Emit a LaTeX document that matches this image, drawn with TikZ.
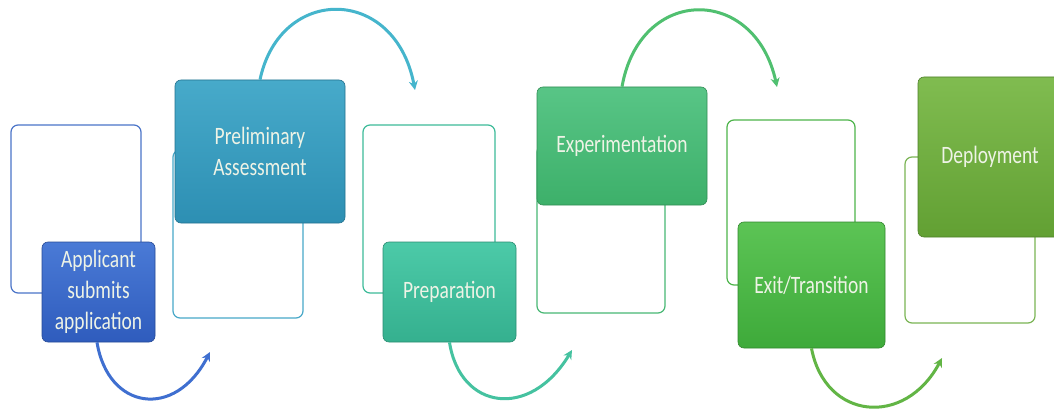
\documentclass[tikz,border=0pt]{standalone}
\usepackage{fontspec}
\setmainfont{Carlito}
\usetikzlibrary{arrows.meta}
\definecolor{oa}{HTML}{4A74C8}\definecolor{ta}{HTML}{4A7AD6}\definecolor{ba}{HTML}{2F5CBD}\definecolor{aa}{HTML}{3F6FD0}
\definecolor{ob}{HTML}{48A8C8}\definecolor{tb}{HTML}{47AACA}\definecolor{bb}{HTML}{2D8FB3}\definecolor{ab}{HTML}{45B5CC}
\definecolor{oc}{HTML}{3DBB99}\definecolor{tc}{HTML}{4CCAA8}\definecolor{bc}{HTML}{35B08F}\definecolor{ac}{HTML}{45C2A0}
\definecolor{od}{HTML}{48B874}\definecolor{td}{HTML}{58C586}\definecolor{bd}{HTML}{3DB06A}\definecolor{ad}{HTML}{50C070}
\definecolor{oe}{HTML}{4DB44A}\definecolor{te}{HTML}{5CC455}\definecolor{be}{HTML}{3EAA3A}\definecolor{ae}{HTML}{62B545}
\definecolor{of}{HTML}{7AB454}\definecolor{tf}{HTML}{80BC50}\definecolor{bf}{HTML}{62A033}
\definecolor{txt}{HTML}{EEF3E6}
\newcommand{\lbl}[1]{\scalebox{0.78}[1]{#1}}
\begin{document}
\begin{tikzpicture}[x=1pt,y=-1pt,
  outl/.style={draw=#1,line width=1.2pt,fill=white,rounded corners=7pt,inner sep=0pt},
  fbox/.style 2 args={draw=#2!80!black,line width=0.6pt,top color=#1,bottom color=#2,rounded corners=6pt,inner sep=0pt,
     text=txt,align=center,font=\fontsize{25}{31}\selectfont},
  curv/.style={draw=#1,line width=3pt,-{Stealth[length=9pt,width=9pt]}}]
\useasboundingbox[fill=white] (0,0) rectangle (1054,414);
% pair 1
\node[outl=oa,minimum width=130pt,minimum height=168pt] (o1) at (76,209) {};
\node[fbox={ta}{ba},minimum width=113pt,minimum height=100pt] (f1) at (98.5,292) {\lbl{Applicant}\\\lbl{submits}\\\lbl{application}};
% pair 2
\node[outl=ob,minimum width=130pt,minimum height=168pt] (o2) at (238,234) {};
\node[fbox={tb}{bb},minimum width=170pt,minimum height=143pt] (f2) at (260,151.5) {\lbl{Preliminary}\\\lbl{Assessment}};
% pair 3
\node[outl=oc,minimum width=132pt,minimum height=168pt] (o3) at (429,209) {};
\node[fbox={tc}{bc},minimum width=133pt,minimum height=100pt] (f3) at (449.5,292) {\lbl{Preparation}};
% pair 4
\node[outl=od,minimum width=128pt,minimum height=168pt] (o4) at (601,229) {};
\node[fbox={td}{bd},minimum width=170pt,minimum height=118pt] (f4) at (622,146) {\lbl{Experimentation}};
% pair 5
\node[outl=oe,minimum width=128pt,minimum height=165pt] (o5) at (791,202.5) {};
\node[fbox={te}{be},minimum width=147pt,minimum height=126pt] (f5) at (811.5,285) {\lbl{Exit/Transition}};
% pair 6
\node[outl=of,minimum width=130pt,minimum height=166pt] (o6) at (970,240) {};
\node[fbox={tf}{bf},minimum width=144pt,minimum height=160pt] (f6) at (990,157) {\lbl{Deployment}};
% arrows
\coordinate (e1) at (210,352);
\coordinate (e2) at (415,90);
\coordinate (e3) at (572,350);
\coordinate (e4) at (777,87);
\coordinate (e5) at (942,358);
\draw[curv=aa] ([xshift=-1.5pt]f1.south) .. controls (108,410) and (175,420) .. (e1);
\draw[curv=ab] (f2.north) .. controls (280,-15) and (395,-15) .. (e2);
\draw[curv=ac] (f3.south) .. controls (460,410) and (530,420) .. (e3);
\draw[curv=ad] (f4.north) .. controls (640,-15) and (755,-15) .. (e4);
\draw[curv=ae] (f5.south) .. controls (825,420) and (905,428) .. (e5);
\end{tikzpicture}
\end{document}
